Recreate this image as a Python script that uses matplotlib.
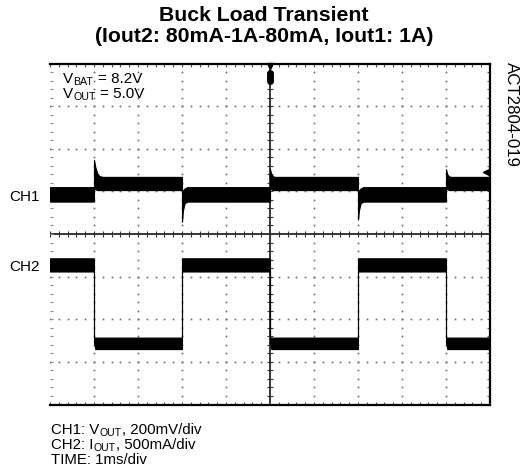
import numpy as np
import matplotlib.pyplot as plt
from matplotlib.lines import TICKUP, TICKDOWN, TICKLEFT, TICKRIGHT

plt.rcParams['font.family'] = 'Liberation Sans'

W, H = 520, 477

# scope screen: 10 x 8 divisions, time in div (1ms/div), level in div
# CH1 (VOUT) trace envelope: time, top, bottom
ch1_t   = [0.0, 1.0, 1.0, 1.03, 1.075, 1.12, 1.2, 3.0, 3.0, 3.02, 3.06, 3.12,
           5.0, 5.0, 5.03, 5.07, 5.12, 7.0, 7.0, 7.02, 7.06, 7.12,
           9.0, 9.0, 9.03, 9.07, 9.12, 10.0]
ch1_top = [1.10, 1.10, 1.74, 1.57, 1.42, 1.36, 1.34, 1.34, 0.95, 1.02, 1.07, 1.10,
           1.10, 1.52, 1.40, 1.35, 1.34, 1.34, 0.95, 1.02, 1.07, 1.10,
           1.10, 1.52, 1.40, 1.35, 1.34, 1.34]
ch1_bot = [0.76, 0.76, 1.10, 1.05, 1.03, 1.03, 1.03, 1.03, 0.29, 0.55, 0.72, 0.76,
           0.76, 1.10, 1.05, 1.03, 1.03, 1.03, 0.34, 0.55, 0.72, 0.76,
           0.76, 1.10, 1.05, 1.03, 1.03, 1.03]

# CH2 (IOUT) trace envelope
ch2_t   = [0.0, 1.0, 1.0, 1.03, 3.0, 3.0, 5.0, 5.0, 5.03, 7.0, 7.0, 9.0, 9.0, 9.03, 10.0]
ch2_top = [-0.57, -0.57, -2.43, -2.43, -2.43, -0.57, -0.57, -2.43, -2.43, -2.43, -0.57,
           -0.57, -2.43, -2.43, -2.43]
ch2_bot = [-0.88, -0.88, -2.55, -2.70, -2.70, -0.88, -0.88, -2.55, -2.70, -2.70, -0.88,
           -0.88, -2.55, -2.70, -2.70]

fig = plt.figure(figsize=(W/100, H/100), dpi=100)
ax = fig.add_axes([50/W, 1-405.5/H, 440/W, 341/H])
ax.set_xlim(0, 10)
ax.set_ylim(-4, 4)
ax.set_xticks([])
ax.set_yticks([])
ax.spines['left'].set_visible(False)
for s in ['top', 'right', 'bottom']:
    ax.spines[s].set_linewidth(1.6)

# dotted graticule
xm = np.arange(0, 10.01, 0.2)
ym = np.arange(-4, 4.01, 0.2)
for gx in [1, 2, 3, 4, 6, 7, 8, 9]:
    ax.plot(np.full(len(ym), gx), ym, ls='none', marker='s', ms=1.2, mew=0, color='#666666')
for gy in [-3, -2, -1, 1, 2, 3]:
    ax.plot(xm, np.full(len(xm), gy), ls='none', marker='s', ms=1.2, mew=0, color='#666666')

# centre axes with minor ticks
ax.axhline(0, color='black', lw=1.1)
ax.axvline(5, color='black', lw=1.1)
ax.plot(xm, np.zeros(len(xm)), ls='none', marker='|', ms=4.5, mew=0.8, color='#333333')
ax.plot(np.full(len(ym), 5), ym, ls='none', marker='_', ms=4.5, mew=0.8, color='#333333')

# border ticks
ax.plot(xm, np.full(len(xm), 4), ls='none', marker=TICKDOWN, ms=2.5, mew=0.8, color='#555555')
ax.plot(xm, np.full(len(xm), -4), ls='none', marker=TICKUP, ms=2.5, mew=0.8, color='#555555')
ax.plot(np.full(len(ym), 10), ym, ls='none', marker=TICKLEFT, ms=2.5, mew=0.8, color='#555555')
ax.plot(np.full(len(ym), 0), ym, ls='none', marker=TICKRIGHT, ms=2.2, mew=0.8, color='#888888')

# traces
ax.fill_between(ch1_t, ch1_bot, ch1_top, color='black', lw=0.8, zorder=5)
ax.fill_between(ch2_t, ch2_bot, ch2_top, color='black', lw=0.8, zorder=5)

# trigger markers
ax.plot([5], [3.93], marker='v', ms=5, color='black', zorder=6, clip_on=False)
ax.plot([5, 5], [3.77, 3.60], color='black', lw=5, solid_capstyle='round', zorder=6)
ax.plot([9.92], [1.46], marker='<', ms=4.5, color='black', zorder=6)

def px(x, y):
    return x/W, 1-y/H

renderer = fig.canvas.get_renderer()

def sub_text(x, y, parts, size):
    # parts: (string, subscript?) pieces written one after another
    for s, sub in parts:
        if s.startswith(' '):
            x += 0.28*size*100/72   # leading space is not measured
            s = s.lstrip()
        if sub:
            t = fig.text(*px(x, y + 2), s, fontsize=size*0.7, va='baseline')
        else:
            t = fig.text(*px(x, y), s, fontsize=size, va='baseline')
        x += t.get_window_extent(renderer).width + 0.5

fig.text(*px(264, 21), 'Buck Load Transient', ha='center', va='baseline',
         fontsize=15.3, fontweight='bold')
fig.text(*px(264, 42), '(Iout2: 80mA-1A-80mA, Iout1: 1A)', ha='center', va='baseline',
         fontsize=15.3, fontweight='bold')

sub_text(62.5, 82.7, [('V', False), ('BAT', True), (' = 8.2V', False)], 11)
sub_text(62.5, 98.3, [('V', False), ('OUT', True), (' = 5.0V', False)], 11)

fig.text(*px(39.5, 200.7), 'CH1', ha='right', va='baseline', fontsize=11)
fig.text(*px(39.5, 271), 'CH2', ha='right', va='baseline', fontsize=11)

fig.text(*px(511, 62), 'ACT2804-019', rotation=270, ha='center', va='top', fontsize=12.2)

sub_text(51, 434, [('CH1: V', False), ('OUT', True), (', 200mV/div', False)], 10.8)
sub_text(51, 449, [('CH2: I', False), ('OUT', True), (', 500mA/div', False)], 10.8)
fig.text(*px(51, 464), 'TIME: 1ms/div', va='baseline', fontsize=10.8)

fig.savefig('out.png', dpi=100)
